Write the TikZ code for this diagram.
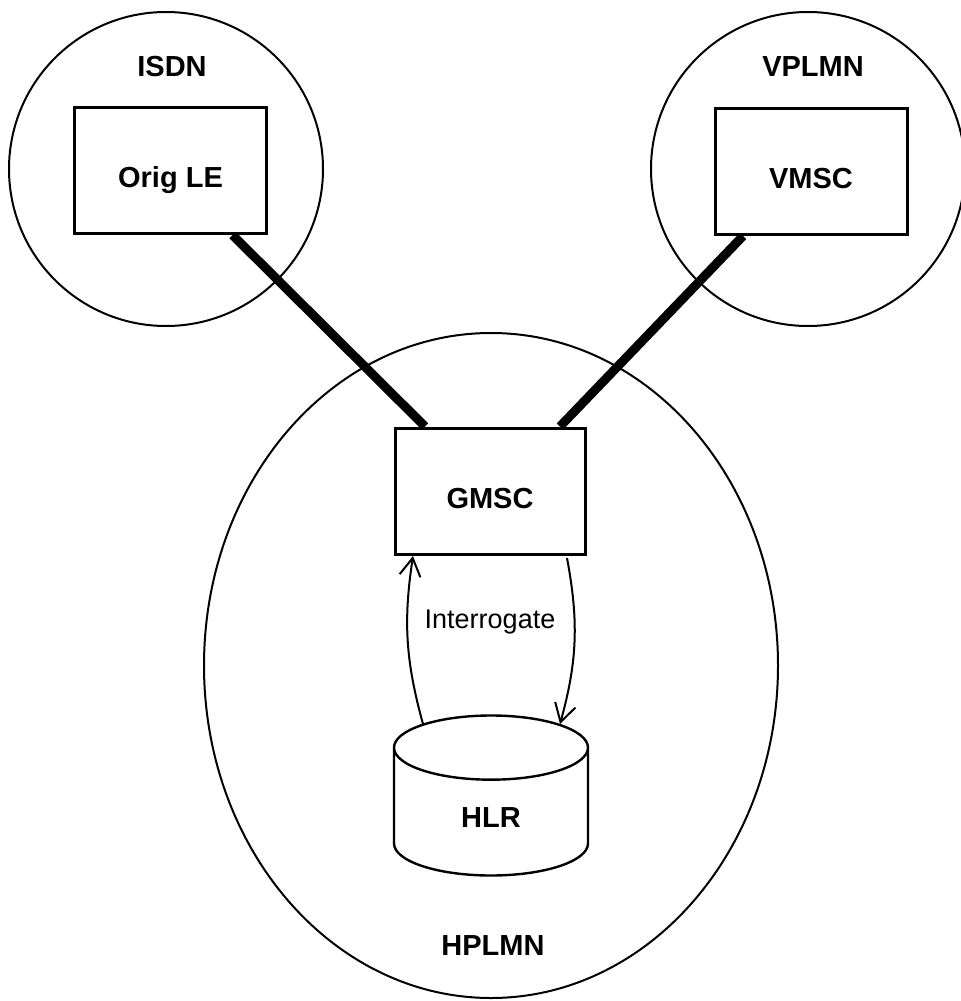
\documentclass[tikz,border=0pt]{standalone}
\usepackage{fontspec}
\setmainfont{Liberation Sans}
\usetikzlibrary{shapes.geometric,arrows.meta}

\tikzset{>={Straight Barb[length=9pt,width=10.5pt]}}

\begin{document}
\begin{tikzpicture}[x=0.5pt,y=-0.5pt]

	\tikzstyle{network_area} = [draw=black, line width=1pt, inner sep=0pt]
	\tikzstyle{network_name} = [font=\fontsize{14.5}{17}\selectfont\bfseries]
	\tikzstyle{switch_box} = [rectangle, draw=black, line width=1.5pt, minimum width=96pt, minimum height=63pt, font=\fontsize{14.5}{17}\selectfont\bfseries, text height=17pt, text depth=0pt]
	\tikzstyle{hlr_db} = [cylinder, shape border rotate=90, draw=black, line width=1.2pt, minimum width=97pt, minimum height=80pt, aspect=0.88, font=\fontsize{14.5}{17}\selectfont\bfseries]
	\tikzstyle{trunk_line} = [line width=4.5pt]
	\tikzstyle{signal_arrow} = [->, line width=1pt]

	\useasboundingbox (0,0) rectangle (960,1001);

%------------------------------------------------------------
	\node[network_area, circle, minimum size=157pt] (isdn) at (166,169) {};
	\node[network_name] (isdn_name) at (172,67) {ISDN};
	\node[switch_box] (origle) at (170.5,170.5) {Orig LE};

%------------------------------------------------------------

	\node[network_area, circle, minimum size=157pt] (vplmn) at (808,169) {};
	\node[network_name] (vplmn_name) at (813,67) {VPLMN};
	\node[switch_box] (vmsc) at (811,171.5) {VMSC};

%------------------------------------------------------------

	\node[network_area, ellipse, minimum width=287pt, minimum height=332.5pt] (hplmn) at (491,665.5) {};
	\node[network_name] (hplmn_name) at (493,946) {HPLMN};
	\node[switch_box, minimum width=95pt] (gmsc) at (490,491) {GMSC};
	\node[hlr_db, anchor=shape center] (hlr) at (491,795.5) {HLR};

%------------------------------------------------------------

	\draw[trunk_line] ([xshift=31pt]origle.south) -- ([xshift=-32.5pt]gmsc.north);
	\draw[trunk_line] ([xshift=-34pt]vmsc.south) -- ([xshift=35pt]gmsc.north);

	\coordinate (hlr_out) at (423,724);
	\coordinate (gmsc_in) at (413,556);
	\coordinate (gmsc_out) at (567,558);
	\coordinate (hlr_in) at (560,724);

	\draw[signal_arrow] (hlr_out) to[bend left=12] (gmsc_in);
	\draw[signal_arrow] (gmsc_out) to[bend left=13] (hlr_in);
	\node[font=\fontsize{13.5}{16}\selectfont] (ask) at (490,622) {Interrogate};

\end{tikzpicture}
\end{document}
